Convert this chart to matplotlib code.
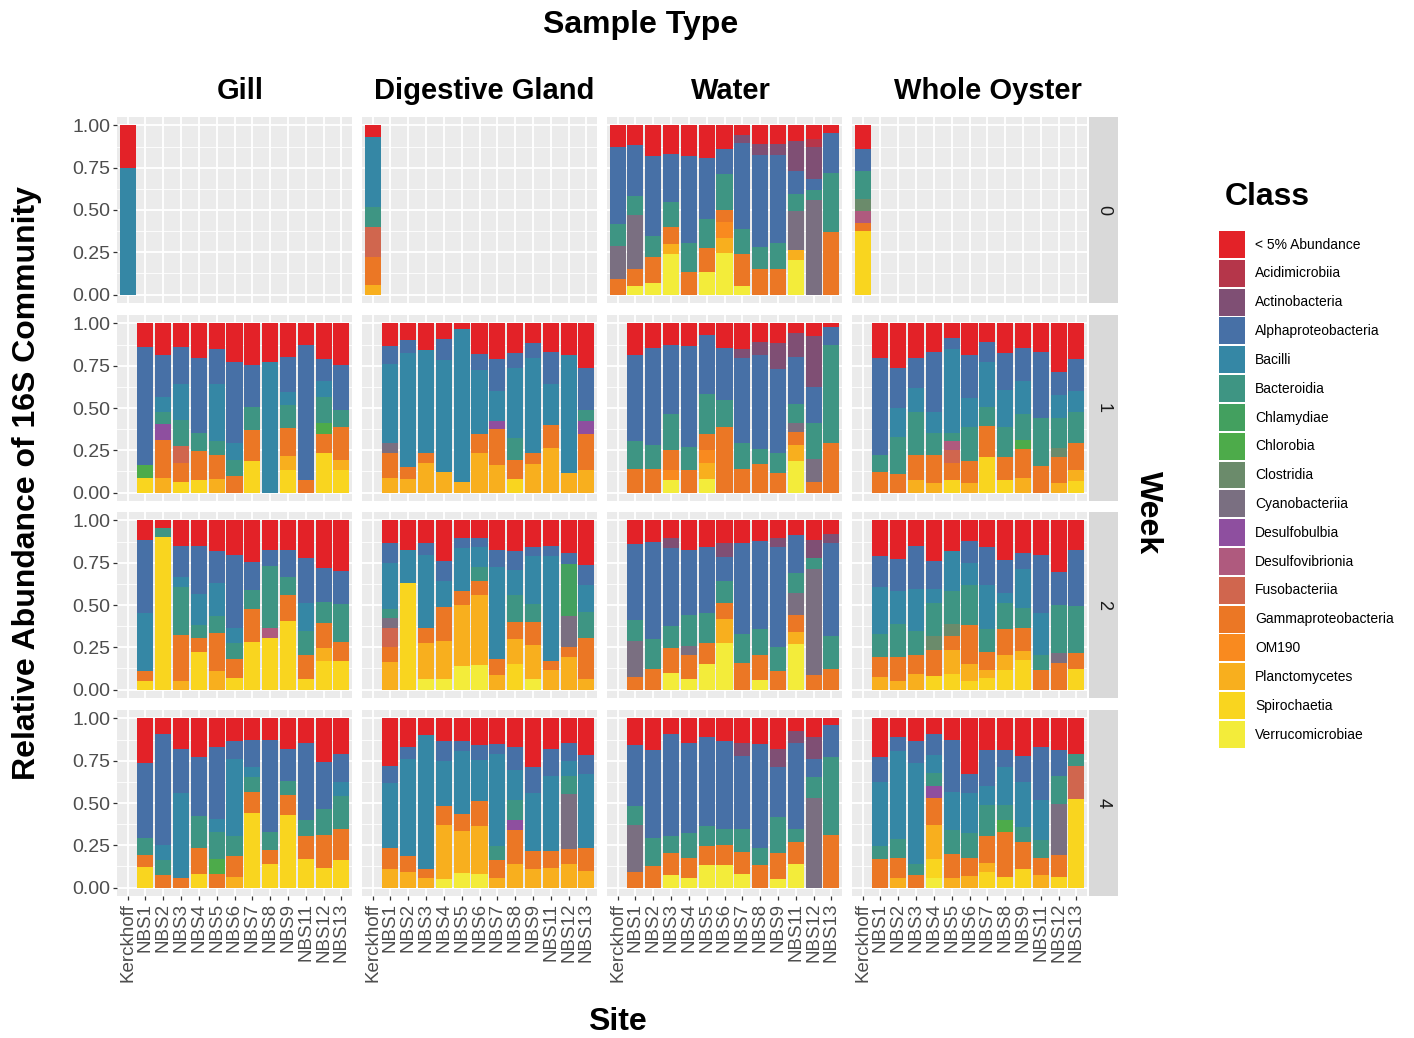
import matplotlib
matplotlib.use('Agg')
import matplotlib.pyplot as plt
from matplotlib.patches import Patch
import numpy as np

plt.rcParams['font.family'] = ['Liberation Sans', 'DejaVu Sans']

sites = ['Kerckhoff', 'NBS1', 'NBS2', 'NBS3', 'NBS4', 'NBS5', 'NBS6',
         'NBS7', 'NBS8', 'NBS9', 'NBS11', 'NBS12', 'NBS13']
sample_types = ['Gill', 'Digestive Gland', 'Water', 'Whole Oyster']
weeks = ['0', '1', '2', '4']

# legend order (top to bottom); stacking goes the other way
class_codes = ['R', 'Am', 'Ac', 'Al', 'Ba', 'Bd', 'Ch', 'Cb', 'Cl', 'Cy',
               'Db', 'Dv', 'Fu', 'Ga', 'OM', 'Pl', 'Sp', 'Ve']
class_names = ['< 5% Abundance', 'Acidimicrobiia', 'Actinobacteria',
               'Alphaproteobacteria', 'Bacilli', 'Bacteroidia', 'Chlamydiae',
               'Chlorobia', 'Clostridia', 'Cyanobacteriia', 'Desulfobulbia',
               'Desulfovibrionia', 'Fusobacteriia', 'Gammaproteobacteria',
               'OM190', 'Planctomycetes', 'Spirochaetia', 'Verrucomicrobiae']
class_colors = ['#E32228', '#B5364A', '#7F4F74', '#4770A6', '#3587A5',
                '#3E9583', '#43A05F', '#4DAB4A', '#6B8B6B', '#7A6F81',
                '#8E4F9F', '#AF5A7E', '#D0664E', '#EB7725', '#F98A1F',
                '#F8AF1E', '#F9D51F', '#F3EC3A']

# ---- week 0 ----
gill_w0 = [dict(Ba=0.75, R=0.25)] + [None] * 12
dg_w0 = [dict(Pl=0.055, Ga=0.17, Fu=0.175, Bd=0.115, Ba=0.415, R=0.07)] + [None] * 12
water_w0 = [
    dict(Ga=0.09, Cy=0.20, Bd=0.125, Al=0.455, R=0.13),
    dict(Ve=0.05, Ga=0.10, Cy=0.32, Bd=0.115, Al=0.30, R=0.115),
    dict(Ve=0.067, Ga=0.153, Bd=0.127, Al=0.47, R=0.183),
    dict(Ve=0.24, Pl=0.06, Ga=0.10, Bd=0.145, Al=0.285, R=0.17),
    dict(Ga=0.135, Bd=0.17, Al=0.515, R=0.18),
    dict(Ve=0.135, Ga=0.14, Bd=0.17, Al=0.365, R=0.19),
    dict(Ve=0.245, Pl=0.09, OM=0.095, Ga=0.07, Bd=0.215, Al=0.145, R=0.14),
    dict(Ve=0.05, Ga=0.19, Bd=0.15, Al=0.505, Ac=0.05, R=0.055),
    dict(Ga=0.153, Bd=0.13, Al=0.545, Ac=0.06, R=0.112),
    dict(Ga=0.153, Bd=0.153, Al=0.52, Ac=0.067, R=0.107),
    dict(Ve=0.204, Pl=0.06, Cy=0.23, Bd=0.10, Al=0.137, Ac=0.179, R=0.09),
    dict(Cy=0.557, Bd=0.06, Al=0.065, Ac=0.19, Am=0.05, R=0.078),
    dict(Ga=0.367, Bd=0.35, Al=0.24, R=0.043),
]
whole_w0 = [dict(Sp=0.373, Ga=0.053, Dv=0.07, Cl=0.07, Bd=0.165, Al=0.13, R=0.139)] + [None] * 12

# ---- week 1 ----
gill_w1 = [None,
    dict(Sp=0.088, Cb=0.077, Al=0.698, R=0.137),
    dict(Pl=0.088, Ga=0.224, Db=0.092, Bd=0.07, Ba=0.092, Al=0.247, R=0.187),
    dict(Sp=0.065, Ga=0.111, Fu=0.097, Bd=0.157, Ba=0.211, Al=0.222, R=0.137),
    dict(Sp=0.073, Ga=0.17, Bd=0.11, Al=0.445, R=0.202),
    dict(Pl=0.078, Ga=0.147, Bd=0.077, Ba=0.339, Al=0.206, R=0.153),
    dict(Ga=0.098, Bd=0.092, Ba=0.104, Al=0.479, R=0.227),
    dict(Sp=0.184, Ga=0.187, Bd=0.137, Al=0.247, R=0.245),
    dict(Ba=0.773, R=0.227),
    dict(Sp=0.131, Pl=0.087, Ga=0.162, Bd=0.136, Ba=0.076, Al=0.212, R=0.196),
    dict(Ga=0.075, Al=0.798, R=0.127),
    dict(Sp=0.235, Ga=0.11, Cb=0.067, Bd=0.155, Ba=0.094, Al=0.127, R=0.212),
    dict(Sp=0.131, Pl=0.059, Ga=0.2, Bd=0.098, Al=0.267, R=0.245),
]
dg_w1 = [None,
    dict(Pl=0.088, Ga=0.147, Cy=0.059, Ba=0.469, Al=0.104, R=0.133),
    dict(Pl=0.082, Ga=0.069, Ba=0.673, Al=0.076, R=0.1),
    dict(Pl=0.175, Ga=0.06, Ba=0.606, R=0.159),
    dict(Pl=0.124, Ba=0.658, Al=0.128, R=0.09),
    dict(Pl=0.065, Ba=0.904, R=0.031),
    dict(Pl=0.235, Ga=0.112, Ba=0.377, Al=0.094, R=0.182),
    dict(Pl=0.161, Ga=0.212, Db=0.052, Ba=0.177, Al=0.186, R=0.212),
    dict(Sp=0.078, Ga=0.116, Bd=0.13, Ba=0.411, Al=0.089, R=0.176),
    dict(Pl=0.167, Ga=0.068, Ba=0.563, Al=0.088, R=0.114),
    dict(Pl=0.263, Ga=0.137, Ba=0.241, Al=0.19, R=0.169),
    dict(Pl=0.118, Ba=0.696, R=0.186),
    dict(Pl=0.131, Ga=0.216, Db=0.075, Bd=0.068, Al=0.245, R=0.265),
]
water_w1 = [None,
    dict(Ga=0.141, Bd=0.161, Al=0.512, R=0.186),
    dict(Ga=0.141, Bd=0.143, Al=0.573, R=0.143),
    dict(Ve=0.073, OM=0.058, Ga=0.122, Bd=0.212, Al=0.41, R=0.125),
    dict(Ga=0.133, Bd=0.136, Al=0.598, R=0.133),
    dict(Ve=0.082, Pl=0.093, OM=0.078, Ga=0.094, Bd=0.235, Al=0.351, R=0.067),
    dict(Ga=0.39, Bd=0.159, Al=0.308, R=0.143),
    dict(Ga=0.141, Bd=0.153, Al=0.502, Ac=0.051, R=0.153),
    dict(Ga=0.167, Bd=0.092, Al=0.555, Ac=0.078, R=0.108),
    dict(Ga=0.116, Bd=0.119, Al=0.494, Ac=0.153, R=0.118),
    dict(Ve=0.184, Pl=0.1, Ga=0.077, Cy=0.051, Bd=0.112, Al=0.28, Ac=0.137, R=0.059),
    dict(Ga=0.065, Cy=0.135, Bd=0.212, Al=0.215, Ac=0.298, R=0.075),
    dict(Ga=0.294, Bd=0.581, Al=0.103, R=0.022),
]
whole_w1 = [None,
    dict(Ga=0.124, Bd=0.101, Al=0.571, R=0.204),
    dict(Ga=0.108, Bd=0.221, Ba=0.169, Al=0.237, R=0.265),
    dict(Pl=0.073, Ga=0.152, Bd=0.25, Ba=0.143, Al=0.178, R=0.204),
    dict(Pl=0.057, Ga=0.168, Bd=0.128, Ba=0.122, Al=0.356, R=0.169),
    dict(Sp=0.073, Ga=0.102, Fu=0.078, Dv=0.049, Bd=0.051, Ba=0.494, Al=0.069, R=0.084),
    dict(Pl=0.057, Ga=0.127, Bd=0.202, Ba=0.171, Al=0.257, R=0.186),
    dict(Sp=0.21, Ga=0.186, Bd=0.112, Ba=0.265, Al=0.117, R=0.11),
    dict(Sp=0.073, Ga=0.137, Bd=0.176, Ba=0.222, Al=0.216, R=0.176),
    dict(Pl=0.088, Ga=0.171, Cb=0.053, Bd=0.153, Ba=0.196, Al=0.196, R=0.143),
    dict(Ga=0.157, Bd=0.282, Al=0.392, R=0.169),
    dict(Pl=0.057, Ga=0.153, Cl=0.053, Bd=0.176, Ba=0.137, Al=0.138, R=0.286),
    dict(Sp=0.067, Pl=0.064, Ga=0.163, Bd=0.181, Ba=0.127, Al=0.186, R=0.212),
]

# ---- week 2 ----
gill_w2 = [None,
    dict(Sp=0.053, Ga=0.059, Ba=0.338, Al=0.436, R=0.114),
    dict(Sp=0.90, Bd=0.053, R=0.047),
    dict(Pl=0.053, Ga=0.27, Bd=0.284, Ba=0.058, Al=0.186, R=0.149),
    dict(Sp=0.221, Ga=0.086, Bd=0.075, Ba=0.186, Al=0.283, R=0.149),
    dict(Pl=0.112, Ga=0.221, Bd=0.101, Ba=0.196, Al=0.188, R=0.182),
    dict(Sp=0.068, Ga=0.112, Bd=0.094, Ba=0.092, Al=0.432, R=0.202),
    dict(Sp=0.28, Ga=0.196, Bd=0.111, Al=0.17, R=0.243),
    dict(Sp=0.307, Dv=0.059, Bd=0.364, Al=0.096, R=0.174),
    dict(Sp=0.407, Ga=0.155, Bd=0.103, Al=0.161, R=0.174),
    dict(Sp=0.063, Ga=0.142, Bd=0.143, Ba=0.165, Al=0.264, R=0.223),
    dict(Sp=0.17, Pl=0.075, Ga=0.146, Bd=0.128, Al=0.198, R=0.283),
    dict(Sp=0.17, Ga=0.11, Bd=0.223, Al=0.197, R=0.30),
]
dg_w2 = [None,
    dict(Pl=0.162, Ga=0.092, Fu=0.112, Cy=0.059, Bd=0.051, Ba=0.274, Al=0.117, R=0.133),
    dict(Sp=0.63, Ba=0.198, R=0.172),
    dict(Ve=0.063, Pl=0.211, Ga=0.092, Ba=0.427, Al=0.074, R=0.133),
    dict(Ve=0.063, Pl=0.227, Ga=0.199, Ba=0.151, Al=0.119, R=0.241),
    dict(Ve=0.137, Pl=0.362, Ga=0.082, Ba=0.255, Al=0.06, R=0.104),
    dict(Ve=0.145, Pl=0.417, Ga=0.078, Bd=0.084, Ba=0.117, Al=0.055, R=0.104),
    dict(Pl=0.084, Ga=0.096, Ba=0.544, Al=0.104, R=0.172),
    dict(Sp=0.153, Pl=0.146, Ga=0.102, Bd=0.161, Ba=0.143, Al=0.113, R=0.182),
    dict(Ve=0.063, Pl=0.201, Ga=0.137, Bd=0.102, Ba=0.284, Al=0.058, R=0.155),
    dict(Pl=0.114, Ga=0.056, Ba=0.617, Al=0.064, R=0.149),
    dict(Pl=0.19, Ga=0.064, Cy=0.18, Ch=0.306, Al=0.068, R=0.192),
    dict(Pl=0.063, Ga=0.244, Bd=0.153, Ba=0.156, Al=0.118, R=0.266),
]
water_w2 = [None,
    dict(Ga=0.075, Cy=0.215, Bd=0.119, Al=0.451, R=0.14),
    dict(Ga=0.124, Bd=0.173, Al=0.573, R=0.13),
    dict(Ve=0.1, Ga=0.146, Bd=0.127, Al=0.462, Ac=0.061, R=0.104),
    dict(Ve=0.065, Ga=0.137, Cy=0.053, Bd=0.187, Al=0.383, R=0.175),
    dict(Ve=0.149, Ga=0.128, Bd=0.175, Al=0.393, R=0.155),
    dict(Ve=0.277, Pl=0.138, Ga=0.096, Bd=0.128, Al=0.143, Ac=0.084, R=0.134),
    dict(Ga=0.159, Bd=0.171, Al=0.536, R=0.134),
    dict(Ve=0.057, Ga=0.145, Bd=0.154, Al=0.522, R=0.122),
    dict(Ga=0.11, Bd=0.141, Al=0.594, Ac=0.051, R=0.104),
    dict(Ve=0.271, Pl=0.067, Ga=0.104, Cy=0.13, Bd=0.118, Al=0.224, R=0.086),
    dict(Ga=0.084, Cy=0.629, Bd=0.063, Ac=0.11, R=0.114),
    dict(Ga=0.124, Bd=0.19, Al=0.552, Ac=0.051, R=0.083),
]
whole_w2 = [None,
    dict(Pl=0.075, Ga=0.118, Bd=0.137, Ba=0.275, Al=0.187, R=0.208),
    dict(Pl=0.049, Ga=0.144, Bd=0.196, Ba=0.191, Al=0.192, R=0.228),
    dict(Pl=0.09, Ga=0.112, Bd=0.144, Ba=0.249, Al=0.256, R=0.149),
    dict(Sp=0.081, Ga=0.155, Cl=0.078, Bd=0.197, Ba=0.084, Al=0.163, R=0.242),
    dict(Sp=0.09, Pl=0.146, Ga=0.078, Cl=0.075, Bd=0.196, Ba=0.232, R=0.183),
    dict(Sp=0.049, Pl=0.1, Ga=0.234, Bd=0.238, Ba=0.128, Al=0.129, R=0.122),
    dict(Sp=0.069, Pl=0.049, Ga=0.104, Bd=0.134, Ba=0.265, Al=0.22, R=0.159),
    dict(Sp=0.118, Pl=0.084, Ga=0.154, Bd=0.155, Ba=0.059, Al=0.196, R=0.234),
    dict(Sp=0.177, Pl=0.051, Ga=0.135, Bd=0.12, Ba=0.23, Al=0.094, R=0.193),
    dict(Ga=0.118, Bd=0.084, Ba=0.25, Al=0.346, R=0.202),
    dict(Ga=0.159, Cy=0.059, Bd=0.283, Al=0.196, R=0.303),
    dict(Sp=0.124, Ga=0.094, Bd=0.275, Al=0.332, R=0.175),
]

# ---- week 4 ----
gill_w4 = [None,
    dict(Sp=0.123, Ga=0.069, Bd=0.102, Al=0.444, R=0.262),
    dict(Ga=0.074, Bd=0.086, Ba=0.09, Al=0.656, R=0.094),
    dict(Ga=0.055, Ba=0.503, Al=0.264, R=0.178),
    dict(Sp=0.082, Ga=0.153, Bd=0.186, Al=0.352, R=0.227),
    dict(Ga=0.082, Cb=0.084, Bd=0.161, Ba=0.078, Al=0.427, R=0.168),
    dict(Pl=0.065, Ga=0.121, Bd=0.117, Ba=0.46, Al=0.102, R=0.135),
    dict(Sp=0.44, Ga=0.128, Bd=0.084, Ba=0.058, Al=0.165, R=0.125),
    dict(Sp=0.141, Ga=0.084, Bd=0.104, Al=0.546, R=0.125),
    dict(Sp=0.431, Ga=0.117, Bd=0.084, Al=0.19, R=0.178),
    dict(Sp=0.166, Ga=0.137, Bd=0.094, Al=0.458, R=0.145),
    dict(Sp=0.117, Ga=0.196, Bd=0.151, Al=0.28, R=0.256),
    dict(Sp=0.16, Ga=0.186, Bd=0.196, Ba=0.084, Al=0.163, R=0.211),
]
dg_w4 = [None,
    dict(Pl=0.108, Ga=0.127, Ba=0.381, Al=0.104, R=0.28),
    dict(Pl=0.092, Ga=0.094, Ba=0.577, Al=0.069, R=0.168),
    dict(Pl=0.055, Ga=0.053, Ba=0.792, R=0.1),
    dict(Ve=0.049, Pl=0.323, Ga=0.111, Ba=0.265, Al=0.117, R=0.135),
    dict(Ve=0.088, Pl=0.249, Ga=0.097, Ba=0.372, Al=0.059, R=0.135),
    dict(Ve=0.082, Pl=0.28, Ga=0.147, Ba=0.244, Al=0.088, R=0.159),
    dict(Pl=0.059, Ga=0.101, Bd=0.085, Ba=0.542, Al=0.06, R=0.153),
    dict(Pl=0.141, Ga=0.198, Db=0.058, Bd=0.118, Ba=0.18, Al=0.137, R=0.168),
    dict(Pl=0.108, Ga=0.111, Ba=0.339, Al=0.156, R=0.286),
    dict(Pl=0.114, Ga=0.105, Ba=0.44, Al=0.163, R=0.178),
    dict(Pl=0.141, Ga=0.088, Cy=0.323, Bd=0.107, Ba=0.09, Al=0.106, R=0.145),
    dict(Pl=0.098, Ga=0.137, Ba=0.434, Al=0.114, R=0.217),
]
water_w4 = [None,
    dict(Ga=0.092, Cy=0.28, Bd=0.111, Al=0.358, R=0.159),
    dict(Ga=0.127, Bd=0.167, Al=0.522, R=0.184),
    dict(Ve=0.074, Ga=0.128, Bd=0.101, Al=0.603, R=0.094),
    dict(Ve=0.059, Ga=0.117, Bd=0.147, Al=0.532, R=0.145),
    dict(Ve=0.131, Ga=0.114, Bd=0.117, Al=0.528, R=0.11),
    dict(Ve=0.131, Ga=0.123, Bd=0.092, Al=0.519, R=0.135),
    dict(Ve=0.082, Ga=0.127, Bd=0.137, Al=0.433, Ac=0.076, R=0.145),
    dict(Ga=0.133, Bd=0.102, Al=0.612, R=0.153),
    dict(Ve=0.049, Ga=0.153, Bd=0.213, Al=0.299, Ac=0.108, R=0.178),
    dict(Ve=0.141, Ga=0.129, Bd=0.076, Al=0.509, Ac=0.069, R=0.076),
    dict(Cy=0.532, Bd=0.12, Al=0.111, Ac=0.127, R=0.11),
    dict(Ga=0.313, Bd=0.46, Al=0.186, R=0.041),
]
whole_w4 = [None,
    dict(Ga=0.166, Bd=0.079, Ba=0.381, Al=0.147, R=0.227),
    dict(Pl=0.059, Ga=0.117, Bd=0.112, Ba=0.518, Al=0.084, R=0.11),
    dict(Ga=0.074, Bd=0.067, Ba=0.597, Al=0.127, R=0.135),
    dict(Ve=0.059, Sp=0.111, Pl=0.202, Ga=0.16, Db=0.069, Bd=0.078, Ba=0.104, Al=0.123, R=0.094),
    dict(Pl=0.059, Ga=0.137, Bd=0.143, Ba=0.229, Al=0.307, R=0.125),
    dict(Pl=0.068, Ga=0.108, Bd=0.147, Ba=0.235, Al=0.111, R=0.331),
    dict(Sp=0.092, Pl=0.051, Ga=0.16, Bd=0.186, Ba=0.112, Al=0.215, R=0.184),
    dict(Sp=0.065, Ga=0.264, Cb=0.068, Bd=0.092, Ba=0.225, Al=0.102, R=0.184),
    dict(Sp=0.108, Ga=0.162, Bd=0.086, Ba=0.27, Al=0.153, R=0.221),
    dict(Pl=0.074, Ga=0.102, Bd=0.104, Ba=0.235, Al=0.317, R=0.168),
    dict(Sp=0.065, Ga=0.127, Cy=0.301, Bd=0.168, Al=0.155, R=0.184),
    dict(Sp=0.524, Fu=0.196, Bd=0.069, R=0.211),
]

panel_data = [
    [gill_w0, dg_w0, water_w0, whole_w0],
    [gill_w1, dg_w1, water_w1, whole_w1],
    [gill_w2, dg_w2, water_w2, whole_w2],
    [gill_w4, dg_w4, water_w4, whole_w4],
]

W, H = 1414, 1038
fig = plt.figure(figsize=(W / 100, H / 100), dpi=100)


def px_axes(x0, y0, w, h):
    return fig.add_axes([x0 / W, 1 - (y0 + h) / H, w / W, h / H])


col_x = [117, 362, 607, 852]
row_y = [117, 315, 512, 710]
pw, ph = 235, 186
color_of = dict(zip(class_codes, class_colors))
xpos = np.arange(len(sites))

for r in range(4):
    for c in range(4):
        ax = px_axes(col_x[c], row_y[r], pw, ph)
        ax.set_facecolor('#EBEBEB')
        bottom = np.zeros(len(sites))
        for code in class_codes[::-1]:
            h = np.array([b.get(code, 0) if b else 0 for b in panel_data[r][c]])
            ax.bar(xpos, h, bottom=bottom, width=0.9, color=color_of[code],
                   linewidth=0, zorder=3)
            bottom += h
        ax.set_xlim(-0.6, len(sites) - 0.4)
        ax.set_ylim(-0.05, 1.05)
        ax.set_xticks(xpos)
        ax.set_xticklabels(sites, rotation=90, fontsize=13.5, color='#4D4D4D')
        ax.set_yticks([0, 0.25, 0.5, 0.75, 1.0])
        ax.set_yticklabels(['0.00', '0.25', '0.50', '0.75', '1.00'],
                           fontsize=14, color='#4D4D4D')
        ax.set_yticks([0.125, 0.375, 0.625, 0.875], minor=True)
        ax.set_axisbelow(True)
        ax.grid(which='major', color='white', linewidth=1.3)
        ax.grid(which='minor', axis='y', color='white', linewidth=0.6)
        for s in ax.spines.values():
            s.set_visible(False)
        ax.tick_params(which='minor', length=0)
        ax.tick_params(which='major', length=3, width=0.9, color='#333333', pad=2)
        if c != 0:
            ax.tick_params(axis='y', left=False, labelleft=False)
        if r != 3:
            ax.tick_params(axis='x', bottom=False, labelbottom=False)

    # week strip on the right
    sax = px_axes(1089, row_y[r], 29, ph)
    sax.set_facecolor('#D9D9D9')
    sax.set_xticks([])
    sax.set_yticks([])
    for s in sax.spines.values():
        s.set_visible(False)
    sax.text(0.5, 0.5, weeks[r], rotation=-90, ha='center', va='center',
             fontsize=13, color='#1A1A1A', transform=sax.transAxes)

# titles
fig.text(641 / W, 1 - 25 / H, 'Sample Type', ha='center', va='center',
         fontsize=23, fontweight='bold')
for cx, name in zip([240, 484, 731, 988], sample_types):
    fig.text(cx / W, 1 - 91 / H, name, ha='center', va='center',
             fontsize=21, fontweight='bold')
fig.text(27 / W, 1 - 483 / H, 'Relative Abundance of 16S Community',
         rotation=90, ha='center', va='center', fontsize=23, fontweight='bold')
fig.text(617 / W, 1 - 1022 / H, 'Site', ha='center', va='center',
         fontsize=23, fontweight='bold')
fig.text(1148 / W, 1 - 513 / H, 'Week', rotation=-90, ha='center', va='center',
         fontsize=23, fontweight='bold')

# legend
fig.text(1225 / W, 1 - 197 / H, 'Class', ha='left', va='center',
         fontsize=23, fontweight='bold')
handles = [Patch(facecolor=col, edgecolor='none') for col in class_colors]
leg = fig.legend(handles, class_names, loc='upper left',
                 bbox_to_anchor=(1219 / W, 1 - 231 / H), frameon=False,
                 fontsize=10, handlelength=1.85, handleheight=2.6,
                 labelspacing=0.14, handletextpad=0.75, borderpad=0,
                 borderaxespad=0)

fig.savefig('out.png', dpi=100)
